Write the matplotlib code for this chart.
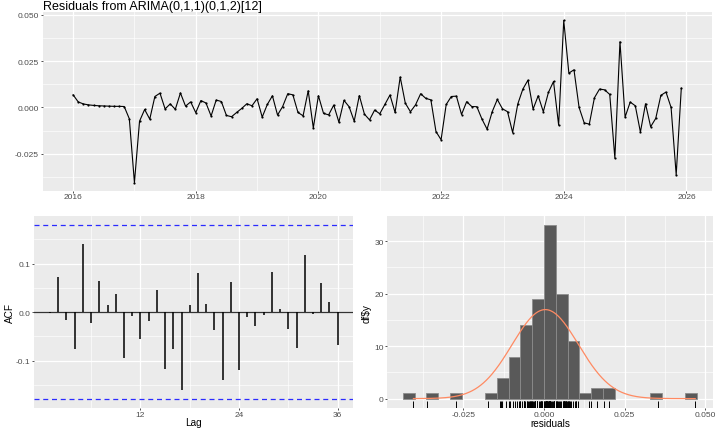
import numpy as np
import matplotlib
matplotlib.use("Agg")
import matplotlib.pyplot as plt
import matplotlib.transforms as mtransforms

plt.rcParams['font.family'] = ['Liberation Sans', 'DejaVu Sans']

# ---- data ----
title = "Residuals from ARIMA(0,1,1)(0,1,2)[12]"
start_year = 2016
residuals = [
    0.0068, 0.0030, 0.0019, 0.0014, 0.0011, 0.0009, 0.0008, 0.0007, 0.0006, 0.0006, 0.0005, -0.0061,
    -0.0405, -0.0074, -0.0011, -0.0063, 0.0059, 0.0077, -0.0008, 0.0019, -0.0010, 0.0078, 0.0007, 0.0030,
    -0.0028, 0.0037, 0.0024, -0.0046, 0.0040, 0.0032, -0.0043, -0.0050, -0.0027, -0.0005, 0.0020, 0.0009,
    0.0047, -0.0052, 0.0016, 0.0063, -0.0041, 0.0005, 0.0074, 0.0068, -0.0027, -0.0045, 0.0090, -0.0110,
    0.0063, -0.0032, -0.0040, 0.0013, -0.0079, 0.0038, 0.0004, -0.0074, 0.0064, -0.0036, -0.0067, -0.0014,
    -0.0034, 0.0016, 0.0067, -0.0027, 0.0164, 0.0023, -0.0023, 0.0014, 0.0074, 0.0049, 0.0041, -0.0130,
    -0.0174, 0.0016, 0.0059, 0.0061, -0.0038, 0.0031, 0.0005, 0.0004, -0.0063, -0.0117, -0.0023, 0.0043,
    -0.0007, -0.0023, -0.0135, 0.0018, 0.0099, 0.0147, -0.0009, 0.0063, -0.0023, 0.0081, 0.0140, -0.0095,
    0.0469, 0.0185, 0.0203, 0.0000, -0.0083, -0.0090, 0.0052, 0.0099, 0.0095, 0.0070, -0.0273, 0.0354,
    -0.0052, 0.0029, 0.0009, -0.0133, 0.0020, -0.0104, -0.0059, 0.0065, 0.0083, 0.0000, -0.0363, 0.0104,
]
time_ticks = [2016, 2018, 2020, 2022, 2024, 2026]
res_ticks = [-0.025, 0.000, 0.025, 0.050]
res_ticklabels = ["-0.025", "0.000", "0.025", "0.050"]

acf_lags = list(range(1, 37))
acf_values = [
    -0.003, 0.072, -0.016, -0.077, 0.141, -0.023, 0.064, 0.014, 0.037, -0.095, -0.009, -0.055,
    -0.019, 0.046, -0.118, -0.077, -0.161, 0.015, 0.080, 0.016, -0.037, -0.141, 0.061, -0.120,
    -0.010, -0.029, -0.006, 0.083, 0.006, -0.035, -0.074, 0.118, -0.005, 0.060, 0.020, -0.068,
]
acf_ci = 0.1795
acf_xticks = [12, 24, 36]
acf_yticks = [-0.1, 0.0, 0.1]
acf_yticklabels = ["-0.1", "0.0", "0.1"]

bin_width = 0.00365
bin_index = [-12, -10, -8, -5, -4, -3, -2, -1, 0, 1, 2, 3, 4, 5, 9, 12]
bin_counts = [1, 1, 1, 1, 4, 8, 14, 19, 33, 20, 11, 1, 2, 2, 1, 1]
normal_mean = 0.0004
normal_sd = 0.0103
hist_yticks = [0, 10, 20, 30]

# ---- style ----
BG = '#EBEBEB'
TICKC = '#4D4D4D'
FS_TICK = 6.0
FS_LAB = 7.2

def style(ax, xmajor, ymajor, xminor, yminor):
    ax.set_facecolor(BG)
    for s in ax.spines.values():
        s.set_visible(False)
    ax.set_xticks(xmajor)
    ax.set_yticks(ymajor)
    ax.set_xticks(xminor, minor=True)
    ax.set_yticks(yminor, minor=True)
    ax.grid(True, which='major', color='white', lw=0.9)
    ax.grid(True, which='minor', color='white', lw=0.45)
    ax.set_axisbelow(True)
    ax.tick_params(which='major', length=1.6, width=0.6, color='#333333',
                   labelsize=FS_TICK, labelcolor=TICKC, pad=1.0)
    ax.tick_params(axis='x', which='major', pad=0.3)
    ax.tick_params(which='minor', length=0)

fig = plt.figure(figsize=(7.15, 4.31), dpi=100)

# ---- top: residual time series ----
ax1 = fig.add_axes([0.0597, 0.5552, 0.9357, 0.4139])
t = start_year + np.arange(len(residuals)) / 12.0
r = np.array(residuals)
style(ax1, time_ticks, res_ticks,
      [2017, 2019, 2021, 2023, 2025], [-0.0375, -0.0125, 0.0125, 0.0375])
ax1.plot(t, r, color='black', lw=0.8, zorder=3)
ax1.scatter(t, r, s=2.5, color='black', zorder=4, linewidths=0)
span = t.max() - t.min()
ax1.set_xlim(t.min() - 0.05 * span, t.max() + 0.05 * span)
rs = r.max() - r.min()
ax1.set_ylim(r.min() - 0.05 * rs, r.max() + 0.05 * rs)
ax1.set_xticklabels([str(v) for v in time_ticks])
ax1.set_yticklabels(res_ticklabels)
fig.text(0.0597, 0.984, title, fontsize=9.0, ha='left', va='center', color='black')

# ---- bottom left: ACF ----
ax2 = fig.add_axes([0.0476, 0.0510, 0.4465, 0.4455])
style(ax2, acf_xticks, acf_yticks, [6, 18, 30], [-0.15, -0.05, 0.05, 0.15])
ax2.vlines(acf_lags, 0, acf_values, color='black', lw=1.1, zorder=3)
ax2.axhline(0, color='#333333', lw=0.9, zorder=2)
ax2.axhline(acf_ci, color='#2b2bff', lw=0.9, ls=(0, (4, 3)), zorder=2)
ax2.axhline(-acf_ci, color='#2b2bff', lw=0.9, ls=(0, (4, 3)), zorder=2)
ax2.set_xlim(-0.95, 37.9)
ax2.set_ylim(-0.198, 0.198)
ax2.set_xticklabels([str(v) for v in acf_xticks])
ax2.set_yticklabels(acf_yticklabels)
ax2.set_xlabel("Lag", fontsize=FS_LAB, va='center')
ax2.xaxis.set_label_coords(0.5, -0.075)
ax2.set_ylabel("ACF", fontsize=FS_LAB, labelpad=0.5)

# ---- bottom right: histogram ----
ax3 = fig.add_axes([0.5417, 0.0503, 0.4559, 0.4462])
style(ax3, res_ticks, hist_yticks,
      [-0.0375, -0.0125, 0.0125, 0.0375], [5, 15, 25])
lefts = np.array(bin_index) * bin_width
ax3.bar(lefts, bin_counts, width=bin_width, align='edge', color='#595959',
        edgecolor='#8C8C8C', linewidth=0.6, zorder=3)
xs = np.linspace(r.min(), r.max(), 400)
dens = len(r) * bin_width / (normal_sd * np.sqrt(2 * np.pi)) * np.exp(-0.5 * ((xs - normal_mean) / normal_sd) ** 2)
ax3.plot(xs, dens, color='#ff8a62', lw=0.9, zorder=4)
trans = mtransforms.blended_transform_factory(ax3.transData, ax3.transAxes)
ax3.vlines(r, 0, 0.038, transform=trans, color='black', lw=0.7, zorder=4)
ax3.set_xlim(-0.0486, 0.0525)
ax3.set_ylim(-1.85, 34.8)
ax3.set_xticklabels(res_ticklabels)
ax3.set_yticklabels([str(v) for v in hist_yticks])
ax3.set_xlabel("residuals", fontsize=FS_LAB, va='center')
ax3.xaxis.set_label_coords(0.5, -0.075)
ax3.set_ylabel("df$y", fontsize=FS_LAB, labelpad=1.5)

fig.savefig("out.png", dpi=100)
